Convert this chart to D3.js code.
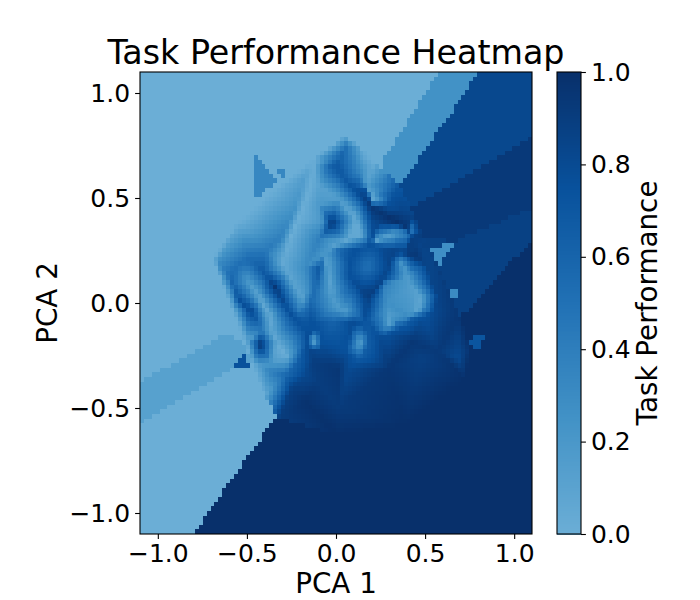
<!DOCTYPE html>
<html><head><meta charset="utf-8">
<script src="https://d3js.org/d3.v7.min.js"></script>
<style>html,body{margin:0;background:#fff}svg{display:block}text{font-family:"DejaVu Sans";fill:#000}</style>
</head><body><svg id="c" width="700" height="600"></svg>
<script>
const titleText = "Task Performance Heatmap";
const xLabel = "PCA 1", yLabel = "PCA 2", barLabel = "Task Performance";
const axisTicks = [-1, -0.5, 0, 0.5, 1];
const barTicks = [0, 0.2, 0.4, 0.6, 0.8, 1];
const gridSize = 100;
const colorStops = ["#6baed6", "#4292c6", "#2171b5", "#08519c", "#08306b"];

// Single readings (PCA 1, PCA 2, performance)
const nodeX = [-.688,-.548,-.361,-.137,.05,.144,.209,.35,.443,.471,
 .537,.686,.761,.724,.387,.013,-.32,-.398,-.473,-.585,
 -.426,-.024,-.08,-.09,-.09,.181,-.211,-.286,-.361,-.249,
 -.174,-.099,.013,.013,-.174,.294,.686,.574,.481,.424,
 -.174,-.174,-.099,-.211,.312,.284,.368,-.127,.135,-.501];
const nodeY = [.213,.387,.53,.681,.792,.736,.673,.562,.419,.324,
 .213,-.057,-.216,-.359,-.581,-.628,-.549,-.438,-.295,-.025,
 -.197,.379,.387,.467,.308,.173,-.279,-.343,-.327,-.406,
 -.343,-.375,-.311,-.501,-.47,-.311,-.263,-.232,-.263,-.184,
 .165,.054,.562,-.041,.498,.467,.435,-.184,-.192,-.184];
const nodeV = [0,0,0,0,.1,.05,0,.7,.85,.9,
 .85,.95,1,1,1,1,.9,.05,0,0,
 .98,.95,.2,.2,.4,.5,.65,.55,.4,.88,
 .82,.9,.95,.92,.98,.95,.8,.93,.88,.95,
 .3,.2,.1,.45,.75,.75,.85,.12,.12,.08];

// Dark veins and light ridges: readings along creases of the surface [PCA 1, PCA 2, performance]
const creases = [
 [[-.034,.649,.6],[.088,.554,.75],[.2,.459,.95],[.35,.379,1]],
 [[.05,.744,.55],[.004,.649,.7]],
 [[.088,.554,.75],[.172,.538,.75],[.191,.475,.9]],
 [[.35,.379,1],[.462,.308,.85],[.453,.216,.95],[.331,.252,.85],[.2,.276,.75],[.219,.371,.8],[.35,.379,1]],
 [[.2,.276,.75],[.2,.387,.8],[.2,.459,.95]],
 [[.219,.292,.15],[.312,.329,.1],[.424,.34,.45]],
 [[.013,.252,.55],[.088,.252,.75],[.2,.276,.75]],
 [[.088,.252,.75],[.069,.133,.75],[.181,.022,.9],[.275,.125,.85],[.331,.252,.85]],
 [[-.09,.165,.7],[-.118,.054,.55],[-.174,-.057,.6],[-.239,-.073,.75]],
 [[-.38,.125,.75],[-.342,.078,.95],[-.286,-.01,.8],[-.239,-.073,.75]],
 [[-.66,.189,.3],[-.604,.149,.5],[-.492,.209,.55],[-.38,.125,.75]],
 [[-.604,.149,.5],[-.548,.014,.75],[-.473,-.041,.85],[-.417,-.129,.45]],
 [[-.183,.594,.15],[-.23,.451,.25],[-.309,.308,.4],[-.389,.252,.45],[-.492,.209,.55]],
 [[-.174,-.136,.75],[-.127,-.279,.9],[-.062,-.184,.75],[-.137,-.073,.75],[-.174,-.136,.75]],
 [[-.062,-.184,.75],[-.015,-.089,.6],[.088,-.097,.8],[.181,-.089,.7],[.247,-.171,.8],[.387,-.105,.7],[.415,-.081,.65]],
 [[.088,-.097,.8],[.06,-.216,.75],[.069,-.311,.8],[.144,-.256,.65],[.181,-.2,.65],[.181,-.089,.7]],
 [[.462,.308,.85],[.555,.054,.85],[.621,-.033,.9],[.686,-.065,.95]],
 [[.415,-.081,.65],[.621,-.033,.9]],
 [[-.118,.665,.02],[-.155,.53,0],[-.258,.308,0],[-.301,.189,.05],[-.239,.094,.1],[-.193,.022,.1]],
 [[.013,.498,.15],[.097,.419,.05],[.144,.324,.05],[.013,.284,.08]],
 [[.209,.498,.03],[.144,.625,.3],[.153,.689,.1]],
 [[-.052,.244,.2],[-.052,.197,.1],[-.024,.054,.12],[-.015,-.025,.25],[.05,-.041,.15],[.107,-.049,.45]],
 [[.368,.189,.2],[.424,.086,.15],[.481,.022,.1],[.462,-.029,.05],[.406,-.065,.3]],
 [[.303,-.097,.1],[.266,.086,.4]],
 [[-.492,.102,.2],[-.417,.006,.05],[-.37,-.057,.05],[-.352,-.152,.08],[-.305,-.224,0],[-.277,-.256,.03],[-.361,-.287,.2],[-.426,-.295,.2]]
];

// Flat areas outside the sampled patch; earlier entries take precedence
const flatValues = [.33,.33,.75,.27,.3,.72,.25,.82,.93,.87,1,.12];
const flatPolygons = [
 [[-.46,.705],[-.46,.495],[-.331,.576]],
 [[-.331,.629],[-.275,.629],[-.297,.595]],
 [[-.516,-.238],[-.584,-.319],[-.483,-.305]],
 [[.527,.267],[.662,.286],[.572,.171]],
 [[.629,.052],[.701,.067],[.651,.01]],
 [[.746,-.167],[.847,-.152],[.786,-.233]],
 [[.578,1.1],[.802,1.1],[.359,.557],[.275,.595],[.264,.681]],
 [[.802,1.1],[1.1,1.1],[1.1,.79],[.426,.452],[.359,.557]],
 [[1.1,.79],[1.1,.452],[.657,.29],[.46,.324],[.426,.452]],
 [[1.1,.452],[1.1,.3],[.696,-.071],[.5,.15],[.46,.324],[.657,.29]],
 [[-.802,-1.1],[-.342,-.548],[0,-.5],[.696,-.071],[1.1,.3],[1.1,-1.1]],
 [[-1.1,-.376],[-.623,-.148],[-.511,-.186],[-.47,-.31],[-.584,-.314],[-1.1,-.571]]
];
const smallCount = 6;
const backgroundValue = 0;

const L = 140, R = 532, T = 72, B = 534, BL = 557, BR = 581;
const x = d3.scaleLinear().domain([-1.1, 1.1]).range([L, R]);
const y = d3.scaleLinear().domain([-1.1, 1.1]).range([B, T]);
const color = d3.scaleLinear().domain([0, .25, .5, .75, 1]).range(colorStops).clamp(true);
const svg = d3.select("#c");

// Mesh: keep each crease as mesh edges so the shading folds along it
const mx = [...nodeX], my = [...nodeY], mv = [...nodeV];
creases.forEach(line => d3.pairs(line).forEach(([p, q]) => {
  const n = Math.max(1, Math.ceil(Math.hypot(q[0]-p[0], q[1]-p[1]) / 0.028));
  d3.range(n + 1).forEach(k => {
    const t = k / n;
    mx.push(p[0] + (q[0]-p[0])*t); my.push(p[1] + (q[1]-p[1])*t); mv.push(p[2] + (q[2]-p[2])*t);
  });
}));
const del = d3.Delaunay.from(mx.map((a, i) => [a, my[i]]));
const tris = d3.range(del.triangles.length / 3).map(t => [del.triangles[3*t], del.triangles[3*t+1], del.triangles[3*t+2]]);
function surface(px, py) {
  for (const [a, b, c] of tris) {
    const d = (my[b]-my[c])*(mx[a]-mx[c]) + (mx[c]-mx[b])*(my[a]-my[c]);
    if (Math.abs(d) < 1e-12) continue;
    const l1 = ((my[b]-my[c])*(px-mx[c]) + (mx[c]-mx[b])*(py-my[c])) / d;
    const l2 = ((my[c]-my[a])*(px-mx[c]) + (mx[a]-mx[c])*(py-my[c])) / d;
    const l3 = 1 - l1 - l2;
    if (l1 >= -1e-9 && l2 >= -1e-9 && l3 >= -1e-9) return l1*mv[a] + l2*mv[b] + l3*mv[c];
  }
  return null;
}
function valueAt(px, py) {
  for (let k = 0; k < smallCount; k++) if (d3.polygonContains(flatPolygons[k], [px, py])) return flatValues[k];
  const s = surface(px, py);
  if (s !== null) return s;
  for (let k = smallCount; k < flatPolygons.length; k++) if (d3.polygonContains(flatPolygons[k], [px, py])) return flatValues[k];
  return backgroundValue;
}
const step = 2.2 / gridSize;
const cells = d3.cross(d3.range(gridSize), d3.range(gridSize), (i, j) => {
  const cx = -1.1 + (i + .5) * step, cy = -1.1 + (j + .5) * step;
  return {i, j, v: valueAt(cx, cy)};
});
svg.append("g").attr("shape-rendering", "crispEdges").selectAll("rect").data(cells).join("rect")
  .attr("x", d => x(-1.1 + d.i * step))
  .attr("y", d => y(-1.1 + (d.j + 1) * step))
  .attr("width", d => x(-1.1 + (d.i + 1) * step) - x(-1.1 + d.i * step))
  .attr("height", d => y(-1.1 + d.j * step) - y(-1.1 + (d.j + 1) * step))
  .attr("fill", d => color(d.v));

function styleAxis(g) {
  g.selectAll("text").style("font-size", "25px").style("font-family", "DejaVu Sans");
  g.selectAll("line").attr("stroke", "#000").attr("stroke-width", 1.1);
  g.select(".domain").remove();
}
const fmt = d3.format(".1f");
svg.append("g").attr("transform", `translate(0,${B})`)
  .call(d3.axisBottom(x).tickValues(axisTicks).tickFormat(fmt).tickSize(4.9).tickPadding(5)).call(styleAxis);
svg.append("g").attr("transform", `translate(${L},0)`)
  .call(d3.axisLeft(y).tickValues(axisTicks).tickFormat(fmt).tickSize(4.9).tickPadding(5)).call(styleAxis);
svg.append("rect").attr("x", L).attr("y", T).attr("width", R-L).attr("height", B-T)
  .attr("fill", "none").attr("stroke", "#000").attr("stroke-width", 1.1);

// colorbar
const cb = d3.scaleLinear().domain([0, 1]).range([B, T]);
const levels = d3.range(0, 256).map(d => d / 256);
svg.append("g").attr("shape-rendering", "crispEdges").selectAll("rect").data(levels).join("rect")
  .attr("x", BL).attr("width", BR-BL)
  .attr("y", d => cb(d + 1/256)).attr("height", (B-T)/256 + .5)
  .attr("fill", d => color(d + .5/256));
svg.append("g").attr("transform", `translate(${BR},0)`)
  .call(d3.axisRight(cb).tickValues(barTicks).tickFormat(fmt).tickSize(4.9).tickPadding(5)).call(styleAxis);
svg.append("rect").attr("x", BL).attr("y", T).attr("width", BR-BL).attr("height", B-T)
  .attr("fill", "none").attr("stroke", "#000").attr("stroke-width", 1.1);

svg.append("text").attr("x", 336).attr("y", 64).attr("text-anchor", "middle").style("font-size", "33.3px").text(titleText);
svg.append("text").attr("x", 336).attr("y", 593).attr("text-anchor", "middle").style("font-size", "27.8px").text(xLabel);
svg.append("text").attr("transform", "translate(57,303) rotate(-90)").attr("text-anchor", "middle").style("font-size", "27.8px").text(yLabel);
svg.append("text").attr("transform", "translate(657,303) rotate(-90)").attr("text-anchor", "middle").style("font-size", "27.8px").text(barLabel);
</script></body></html>
